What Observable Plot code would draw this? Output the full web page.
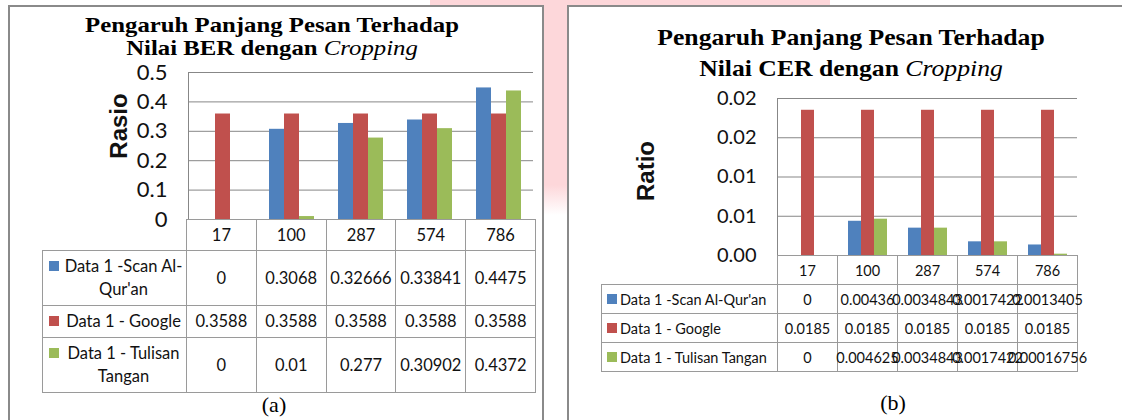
<!DOCTYPE html>
<html><head><meta charset="utf-8">
<script src="https://cdn.jsdelivr.net/npm/d3@7"></script>
<script src="https://cdn.jsdelivr.net/npm/@observablehq/plot@0.6"></script>
<style>
html,body{margin:0;padding:0;}
body{width:1122px;height:420px;position:relative;overflow:hidden;background:#fff;font-family:Lato,"Open Sans",sans-serif;color:#111;}
.wm{position:absolute;background:#fdd7da;}
.panel{position:absolute;border:2px solid #8a8a8a;border-bottom:none;background:#fff;box-sizing:border-box;}
.title{position:absolute;font-family:"Liberation Serif","Times New Roman",serif;font-weight:bold;text-align:center;color:#000;white-space:nowrap;}
.title i{font-family:"Liberation Serif","Times New Roman",serif;font-style:italic;font-weight:normal;}
.cap{position:absolute;font-family:"Liberation Serif","Times New Roman",serif;font-size:22px;color:#000;transform:translateX(-50%);}
.chart{position:absolute;left:0;top:0;}
table.dt{position:absolute;border-collapse:collapse;table-layout:fixed;color:#111;}
table.dt td{border:1px solid #9a9a9a;padding:0;text-align:center;vertical-align:middle;white-space:nowrap;}
table.dt td.blank{border:none;}
table.dt .v{display:flex;justify-content:center;white-space:nowrap;}
table.dt td.lg{position:relative;white-space:normal;text-align:left;}
.sw{position:absolute;width:10px;height:10px;}
#tabA{font-size:16.5px;line-height:23px;}
#tabA td.lg .t{padding:4px 1px 4px 19px;text-align:center;}
#tabA tr.hd td{height:30px;}
#tabB{font-size:14.5px;}
#tabB td{height:28px;}
#tabB td.lg .t{padding:0 1px 0 18px;white-space:nowrap;}
svg [aria-label="y-axis label"]{font-weight:bold;font-family:"Liberation Sans",Arial,sans-serif;}
</style></head>
<body>
<div class="wm" style="left:430px;top:0;width:400px;height:6px;"></div>
<div class="wm" style="left:543px;top:0;width:25px;height:215px;background:linear-gradient(#fdd7da 0,#fdd7da 185px,#fff 215px);"></div>
<div class="panel" style="left:8px;top:5px;width:536px;height:430px;"></div>
<div class="panel" style="left:567px;top:5px;width:600px;height:430px;"></div>
<div class="title" id="tA" style="left:272px;top:14px;font-size:21px;line-height:23px;transform:translateX(-50%) scaleX(1.18);">Pengaruh Panjang Pesan Terhadap<br>Nilai BER dengan <i>Cropping</i></div>
<div class="title" id="tB" style="left:851px;top:22px;font-size:24px;line-height:31px;transform:translateX(-50%) scaleX(1.07);">Pengaruh Panjang Pesan Terhadap<br>Nilai CER dengan <i>Cropping</i></div>
<div id="cA" class="chart"></div>
<div id="cB" class="chart"></div>
<div class="cap" style="left:274px;top:392px;">(a)</div>
<div class="cap" style="left:893px;top:390px;">(b)</div>
<script>
// ---- data ----
const categories = ["17", "100", "287", "574", "786"];
const seriesNames = ["Data 1 -Scan Al-Qur'an", "Data 1 - Google", "Data 1 - Tulisan Tangan"];
const seriesColors = ["#4F81BD", "#C0504D", "#9BBB59"];

const berScan = [0, 0.3068, 0.32666, 0.33841, 0.4475];
const berGoogle = [0.3588, 0.3588, 0.3588, 0.3588, 0.3588];
const berTulisan = [0, 0.01, 0.277, 0.30902, 0.4372];

const cerScan = [0, 0.00436, 0.0034843, 0.0017422, 0.0013405];
const cerGoogle = [0.0185, 0.0185, 0.0185, 0.0185, 0.0185];
const cerTulisan = [0, 0.004625, 0.0034843, 0.0017422, 0.00016756];

const berTicks = [0, 0.1, 0.2, 0.3, 0.4, 0.5];
const berTickLabels = ["0", "0.1", "0.2", "0.3", "0.4", "0.5"];
const cerTicks = [0, 0.005, 0.01, 0.015, 0.02];
const cerTickLabels = ["0.00", "0.01", "0.01", "0.02", "0.02"];

function rows(series) {
  const out = [];
  categories.forEach((cat, i) => series.forEach((arr, j) => out.push({cat, series: seriesNames[j], value: arr[i]})));
  return out;
}

function chart(cfg) {
  const fmt = d => cfg.tickLabels[cfg.ticks.indexOf(d)];
  return Plot.plot({
    width: cfg.width, height: cfg.height,
    marginLeft: cfg.left, marginRight: cfg.right, marginTop: cfg.top, marginBottom: 1,
    style: {background: "transparent", fontFamily: "Lato, sans-serif", fontSize: cfg.fontSize + "px", color: "#111", overflow: "visible"},
    fx: {domain: categories, padding: 0, axis: null},
    x: {domain: seriesNames, paddingInner: 0, paddingOuter: 0.8, axis: null},
    y: {domain: [0, cfg.ticks[cfg.ticks.length - 1]], axis: null},
    color: {domain: seriesNames, range: seriesColors},
    marks: [
      Plot.gridY(cfg.ticks, {stroke: "#878787", strokeOpacity: 1, strokeWidth: 1}),
      Plot.barY(cfg.data, {fx: "cat", x: "series", y: "value", fill: "series"}),
      Plot.axisY(cfg.ticks, {tickFormat: fmt, tickSize: 0, tickPadding: cfg.tickPadding, fontSize: cfg.fontSize,
        label: cfg.label, labelAnchor: "center", labelArrow: "none", labelOffset: cfg.labelOffset}),
      Plot.frame({anchor: "left", stroke: "#878787", strokeOpacity: 1, facetAnchor: "left"})
    ]
  });
}

function styleLabel(svg, size, shift) {
  svg.querySelectorAll('[aria-label="y-axis label"]').forEach(g => {
    g.setAttribute("font-size", size);
    g.querySelectorAll("text").forEach(t => t.setAttribute("dx", shift));
  });
}

const svgA = chart({data: rows([berScan, berGoogle, berTulisan]), ticks: berTicks, tickLabels: berTickLabels,
  width: 542, height: 220, left: 186, right: 7, top: 72, fontSize: 22, tickPadding: 21, label: "Rasio", labelOffset: 79});
document.getElementById("cA").append(svgA);
styleLabel(svgA, 24, 20);
const svgB = chart({data: rows([cerScan, cerGoogle, cerTulisan]), ticks: cerTicks, tickLabels: cerTickLabels,
  width: 1078, height: 256, left: 777, right: 1, top: 98, fontSize: 20, tickPadding: 21, label: "Ratio", labelOffset: 141});
document.getElementById("cB").append(svgB);
styleLabel(svgB, 24, 6);

function table(id, series, pos) {
  const t = document.createElement("table");
  t.className = "dt"; t.id = id;
  t.style.left = pos.left + "px"; t.style.top = pos.top + "px";
  t.style.width = (pos.lw + pos.cw * categories.length) + "px";
  const cg = document.createElement("colgroup");
  [pos.lw, ...categories.map(() => pos.cw)].forEach(w => { const c = document.createElement("col"); c.style.width = w + "px"; cg.append(c); });
  t.append(cg);
  const hd = document.createElement("tr"); hd.className = "hd";
  const b = document.createElement("td"); b.className = "blank"; hd.append(b);
  categories.forEach(c => { const td = document.createElement("td"); td.innerHTML = `<div class="v">${c}</div>`; hd.append(td); });
  t.append(hd);
  series.forEach((arr, j) => {
    const tr = document.createElement("tr");
    const lg = document.createElement("td"); lg.className = "lg";
    const sw = document.createElement("span"); sw.className = "sw"; sw.style.background = seriesColors[j];
    sw.style.left = pos.swx + "px"; sw.style.top = pos.swy + "px";
    const tx = document.createElement("div"); tx.className = "t"; tx.textContent = seriesNames[j];
    lg.append(sw, tx); tr.append(lg);
    arr.forEach(v => { const td = document.createElement("td"); td.innerHTML = `<div class="v">${String(v)}</div>`; tr.append(td); });
    t.append(tr);
  });
  document.body.append(t);
}
table("tabA", [berScan, berGoogle, berTulisan], {left: 42, top: 219, lw: 144, cw: 69.8, swx: 6, swy: 10});
table("tabB", [cerScan, cerGoogle, cerTulisan], {left: 601, top: 255, lw: 176, cw: 60, swx: 5, swy: 9});
</script>
</body></html>
